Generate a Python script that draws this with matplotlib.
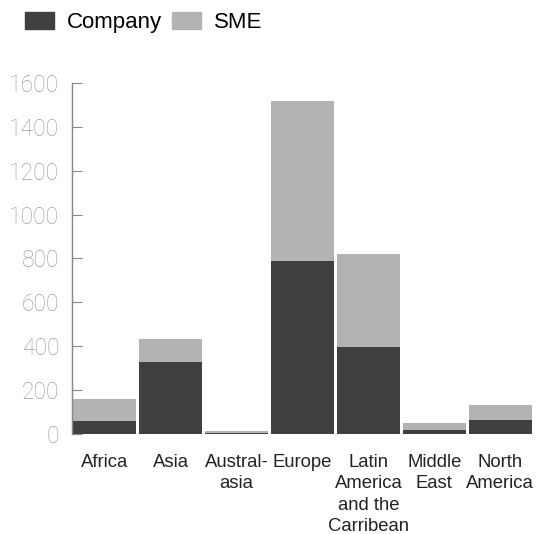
import numpy as np
import matplotlib
matplotlib.use("Agg")
import matplotlib.pyplot as plt
from matplotlib.patches import Patch

plt.rcParams['font.family'] = ['Liberation Sans', 'DejaVu Sans']

regions = ["Africa", "Asia", "Austral-\nasia", "Europe",
           "Latin\nAmerica\nand the\nCarribean", "Middle\nEast", "North\nAmerica"]
company = [59, 328, 6, 788, 396, 18, 64]
sme = [103, 105, 8, 728, 424, 32, 68]

dark = "#404040"
light = "#b3b3b3"

fig = plt.figure(figsize=(5.49, 5.34), dpi=100)
ax = fig.add_axes([0.131, 0.187, 0.84, 0.658])

x = np.arange(len(regions))
ax.bar(x, company, width=0.955, color=dark)
ax.bar(x, sme, width=0.955, bottom=company, color=light)

ax.set_xlim(-0.5, len(regions) - 0.5)
ax.set_ylim(0, 1600)
ax.set_yticks(range(0, 1601, 200))

for s in ["top", "right", "bottom"]:
    ax.spines[s].set_visible(False)
ax.spines["left"].set_color("#888888")
ax.spines["left"].set_linewidth(1.0)

ax.tick_params(axis="y", direction="in", length=7, color="#888888",
               labelcolor="#a0a0a0", labelsize=16.5, pad=9)
ax.set_yticklabels([str(v) for v in range(0, 1601, 200)],
                   family=["Roboto", "DejaVu Sans"], fontweight="light")
ax.tick_params(axis="x", length=0, pad=14)
ax.set_xticks(x)
ax.set_xticklabels(regions, fontsize=13.3, color="#222222", linespacing=1.35, va="top")

handles = [Patch(color=dark, label="Company"), Patch(color=light, label="SME")]
fig.legend(handles=handles, loc="upper left", bbox_to_anchor=(0.045, 0.978),
           ncol=2, frameon=False, fontsize=16, handlelength=1.3, handleheight=0.85,
           handletextpad=0.6, columnspacing=0.45, borderpad=0, borderaxespad=0)

fig.savefig("out.png", dpi=100)
